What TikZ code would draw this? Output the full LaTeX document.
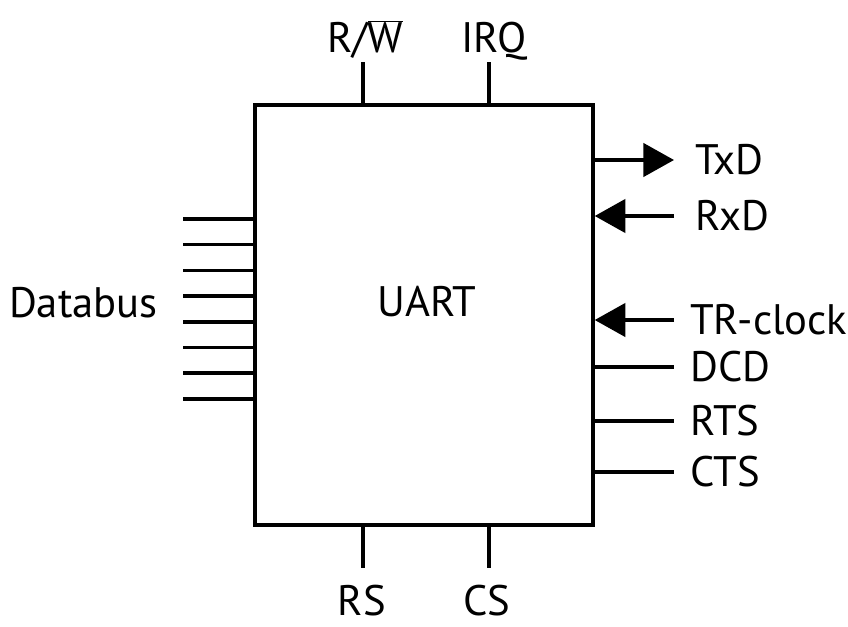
\documentclass[tikz,border=0pt]{standalone}
\usepackage{fontspec}
\setmainfont{PT Sans}
\usetikzlibrary{arrows.meta,positioning}

\tikzset{
  pin/.style={line width=2.6pt},
  sig/.style={inner sep=0pt, font=\fontsize{32}{38}\selectfont},
  into/.style={pin, -{Triangle[length=23pt,width=25pt]}}
}

\begin{document}
\begin{tikzpicture}[x=0.75pt,y=0.75pt]
\useasboundingbox (0,0) rectangle (848,626);

\node[draw, line width=2.6pt, minimum width=253.5pt, minimum height=315pt,
      inner sep=0pt] (uart) at (424,311) {};
\node[sig] (uart label) at (427,324) {UART};

% top and bottom pins
\coordinate (rw end) at (363,564);
\coordinate (irq end) at (489,564);
\coordinate (rs end) at (363,58);
\coordinate (cs end) at (489,58);
\draw[pin] (uart.north -| rw end) -- (rw end);
\draw[pin] (uart.north -| irq end) -- (irq end);
\draw[pin] (uart.south -| rs end) -- (rs end);
\draw[pin] (uart.south -| cs end) -- (cs end);
\node[sig, anchor=base] (rw) at (365,573) {R/$\overline{\mbox{W}}$};
\node[sig, anchor=base] (irq) at (494,573) {IRQ};
\node[sig, anchor=base] (rs) at (362,11) {RS};
\node[sig, anchor=base] (cs) at (487,11) {CS};

% databus
\foreach \i in {0,...,7} {
  \coordinate (db\i) at (183,407-25.7*\i);
  \draw[pin] (db\i) -- (uart.west |- db\i);
}
\node[sig, anchor=east] (databus) at (158,323) {Databus};

% serial side
\coordinate (txd end) at (674,466);
\coordinate (rxd end) at (674,410);
\coordinate (clk end) at (674,306);
\coordinate (dcd end) at (674,259);
\coordinate (rts end) at (674,205);
\coordinate (cts end) at (674,154);
\draw[into] (uart.east |- txd end) -- (txd end);
\draw[into] (rxd end) -- (uart.east |- rxd end);
\draw[into] (clk end) -- (uart.east |- clk end);
\draw[pin] (uart.east |- dcd end) -- (dcd end);
\draw[pin] (uart.east |- rts end) -- (rts end);
\draw[pin] (uart.east |- cts end) -- (cts end);
\node[sig, right=16pt of txd end] (txd) {TxD};
\node[sig, right=16pt of rxd end] (rxd) {RxD};
\node[sig, right=12pt of clk end] (clk) {TR-clock};
\node[sig, right=12pt of dcd end] (dcd) {DCD};
\node[sig, right=12pt of rts end] (rts) {RTS};
\node[sig, right=12pt of cts end] (cts) {CTS};
\end{tikzpicture}
\end{document}
